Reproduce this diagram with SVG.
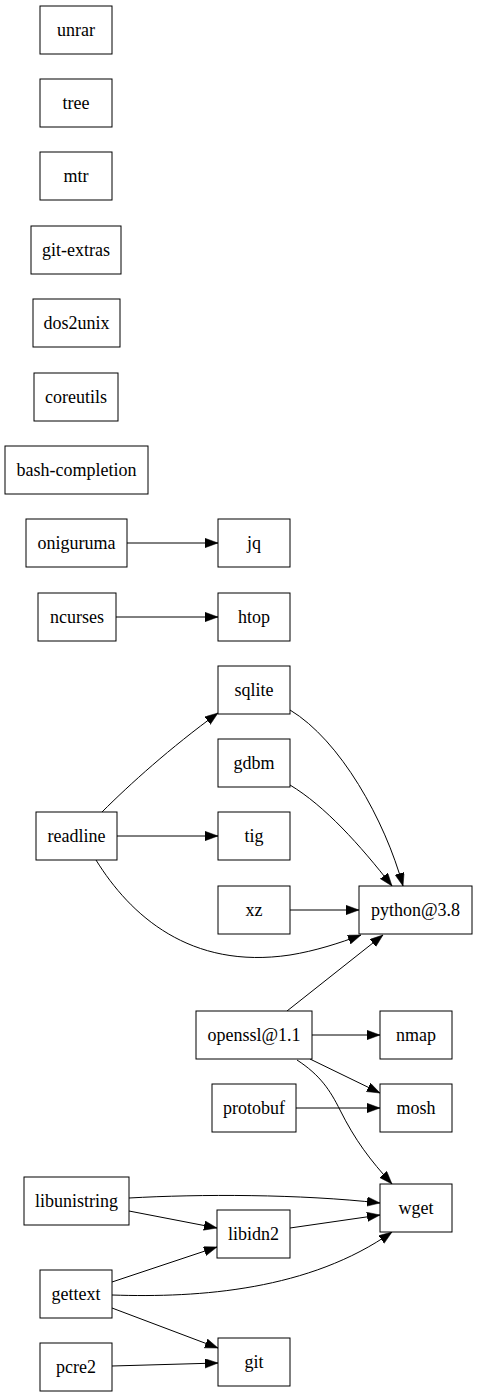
<svg xmlns="http://www.w3.org/2000/svg" width="477" height="1397" viewBox="0 0 477 1397">
<style>
.n rect{fill:#fff;stroke:#000;stroke-width:1}
.n text{font-family:'Liberation Serif','Times New Roman','DejaVu Serif',serif;font-size:18px;text-anchor:middle;fill:#000}
.e path{fill:none;stroke:#000;stroke-width:1;marker-end:url(#ah)}
</style>
<defs>
<marker id="ah" markerUnits="userSpaceOnUse" markerWidth="14" markerHeight="10" refX="13" refY="4.7" orient="auto" viewBox="0 0 14 10">
<path d="M0,0 L13,4.7 L0,9.4 z" fill="#000" stroke="#000" stroke-width="0.5"/>
</marker>
</defs>
<rect width="477" height="1397" fill="#fff"/>
<g id="edges" class="e">
<path d="M127,543 L218,543"/>
<path d="M116,617 L218,617"/>
<path d="M102,812 C130,784 170,748 218,713"/>
<path d="M117,836 L218,836"/>
<path d="M96,860 C130,915 190,970 290,955 C315,951 340,943 361,935"/>
<path d="M290,710 C340,740 385,820 403,886"/>
<path d="M290,785 C325,806 360,845 392,886"/>
<path d="M290,910 L359,910"/>
<path d="M287,1011 L383,935"/>
<path d="M312,1035 L380,1035"/>
<path d="M310,1059 L380,1093"/>
<path d="M297,1060 C320,1075 330,1090 340,1110 C355,1140 370,1160 392,1184"/>
<path d="M296,1108 L380,1108"/>
<path d="M129,1198 C200,1194 300,1194 380,1203"/>
<path d="M129,1211 L217,1228"/>
<path d="M290,1228 L380,1215"/>
<path d="M112,1282 L217,1247"/>
<path d="M112,1295 C200,1298 310,1290 392,1232"/>
<path d="M112,1308 L218,1348"/>
<path d="M112,1366 L218,1363"/>
</g>
<g id="unrar" class="n"><rect x="40" y="6" width="72" height="48"/><text x="76" y="35.5" font-family="Liberation Serif, serif">unrar</text></g>
<g id="tree" class="n"><rect x="40" y="79" width="72" height="48"/><text x="76" y="108.5">tree</text></g>
<g id="mtr" class="n"><rect x="40" y="152" width="72" height="48"/><text x="76" y="181.5">mtr</text></g>
<g id="git-extras" class="n"><rect x="31" y="226" width="90" height="48"/><text x="76" y="255.5">git-extras</text></g>
<g id="dos2unix" class="n"><rect x="33" y="299" width="87" height="48"/><text x="76.5" y="328.5">dos2unix</text></g>
<g id="coreutils" class="n"><rect x="34" y="373" width="84" height="48"/><text x="76" y="402.5">coreutils</text></g>
<g id="bash-completion" class="n"><rect x="5" y="446" width="143" height="48"/><text x="76.5" y="475.5">bash-completion</text></g>
<g id="oniguruma" class="n"><rect x="26" y="519" width="101" height="48"/><text x="76.5" y="548.5">oniguruma</text></g>
<g id="jq" class="n"><rect x="218" y="519" width="72" height="48"/><text x="254" y="548.5">jq</text></g>
<g id="ncurses" class="n"><rect x="38" y="593" width="78" height="48"/><text x="77" y="622.5">ncurses</text></g>
<g id="htop" class="n"><rect x="218" y="593" width="72" height="48"/><text x="254" y="622.5">htop</text></g>
<g id="sqlite" class="n"><rect x="218" y="666" width="72" height="48"/><text x="254" y="695.5">sqlite</text></g>
<g id="gdbm" class="n"><rect x="218" y="739" width="72" height="48"/><text x="254" y="768.5">gdbm</text></g>
<g id="readline" class="n"><rect x="36" y="812" width="81" height="48"/><text x="76.5" y="841.5">readline</text></g>
<g id="tig" class="n"><rect x="218" y="812" width="72" height="48"/><text x="254" y="841.5">tig</text></g>
<g id="xz" class="n"><rect x="218" y="886" width="72" height="48"/><text x="254" y="915.5">xz</text></g>
<g id="python38" class="n"><rect x="359" y="886" width="113" height="48"/><text x="415.5" y="915.5">python@3.8</text></g>
<g id="openssl11" class="n"><rect x="196" y="1011" width="116" height="48"/><text x="254" y="1040.5">openssl@1.1</text></g>
<g id="nmap" class="n"><rect x="380" y="1011" width="72" height="48"/><text x="416" y="1040.5">nmap</text></g>
<g id="protobuf" class="n"><rect x="212" y="1084" width="84" height="48"/><text x="254" y="1113.5">protobuf</text></g>
<g id="mosh" class="n"><rect x="380" y="1084" width="72" height="48"/><text x="416" y="1113.5">mosh</text></g>
<g id="libunistring" class="n"><rect x="24" y="1177" width="105" height="48"/><text x="76.5" y="1206.5">libunistring</text></g>
<g id="wget" class="n"><rect x="380" y="1184" width="72" height="48"/><text x="416" y="1213.5">wget</text></g>
<g id="libidn2" class="n"><rect x="217" y="1210" width="73" height="48"/><text x="253.5" y="1239.5">libidn2</text></g>
<g id="gettext" class="n"><rect x="40" y="1270" width="72" height="48"/><text x="76" y="1299.5">gettext</text></g>
<g id="pcre2" class="n"><rect x="40" y="1343" width="72" height="48"/><text x="76" y="1372.5">pcre2</text></g>
<g id="git" class="n"><rect x="218" y="1338" width="72" height="48"/><text x="254" y="1367.5">git</text></g>
</svg>
